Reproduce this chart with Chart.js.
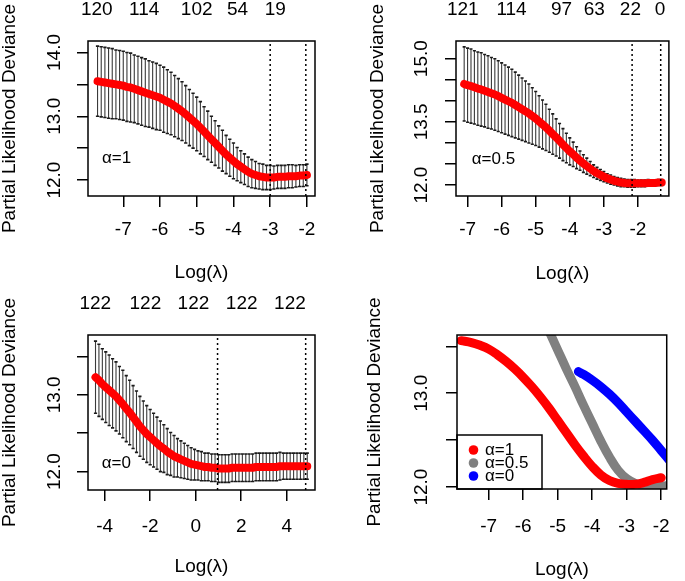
<!DOCTYPE html>
<html>
<head>
<meta charset="utf-8">
<script src="https://cdn.jsdelivr.net/npm/chart.js@4.4.1/dist/chart.umd.min.js"></script>
<style>
  html, body { margin: 0; padding: 0; background: #fff; }
  #wrap { position: relative; width: 685px; height: 581px; }
  canvas { position: absolute; }
</style>
</head>
<body>
<div id="wrap">
  <canvas id="c1" width="340" height="290" style="left:0;top:0"></canvas>
  <canvas id="c2" width="345" height="290" style="left:340px;top:0"></canvas>
  <canvas id="c3" width="340" height="291" style="left:0;top:290px"></canvas>
  <canvas id="c4" width="345" height="291" style="left:340px;top:290px"></canvas>
</div>
<script>
Chart.defaults.font.family = '"Liberation Sans", Arial, Helvetica, sans-serif';
Chart.defaults.font.size = 19;
Chart.defaults.color = '#000';

// ---- alpha = 1 (lasso) ----
const logLam1 = [-7.7,-7.6,-7.5,-7.4,-7.3,-7.2,-7.1,-7.0,-6.9,-6.8,
  -6.7,-6.6,-6.5,-6.4,-6.3,-6.2,-6.1,-6.0,-5.9,-5.8,
  -5.7,-5.6,-5.5,-5.4,-5.3,-5.2,-5.1,-5.0,-4.9,-4.8,
  -4.7,-4.6,-4.5,-4.4,-4.3,-4.2,-4.1,-4.0,-3.9,-3.8,
  -3.7,-3.6,-3.5,-3.4,-3.3,-3.2,-3.1,-3.0,-2.9,-2.8,
  -2.7,-2.6,-2.5,-2.4,-2.3,-2.2,-2.1,-2.0];
const cvm1 = [13.55,13.54,13.53,13.52,13.51,13.50,13.49,13.48,13.46,13.45,
  13.43,13.41,13.39,13.37,13.35,13.33,13.31,13.29,13.26,13.23,
  13.20,13.16,13.12,13.08,13.03,12.98,12.93,12.88,12.82,12.76,
  12.70,12.64,12.58,12.52,12.46,12.40,12.35,12.30,12.25,12.21,
  12.17,12.13,12.10,12.08,12.06,12.05,12.04,12.04,12.04,12.05,
  12.05,12.05,12.06,12.06,12.06,12.07,12.07,12.08];
const cvsd1 = [0.55,0.55,0.55,0.55,0.55,0.54,0.54,0.54,0.54,0.54,
  0.53,0.53,0.53,0.53,0.52,0.52,0.52,0.51,0.51,0.50,
  0.49,0.48,0.47,0.46,0.45,0.44,0.43,0.42,0.41,0.39,
  0.38,0.36,0.35,0.33,0.32,0.30,0.29,0.28,0.26,0.25,
  0.24,0.23,0.22,0.21,0.20,0.20,0.19,0.19,0.18,0.18,
  0.18,0.18,0.18,0.18,0.17,0.17,0.17,0.17];
const cut1 = [-3.0, -2.03];
const topPos1 = [-7.72, -6.43, -5.0, -3.89, -2.86];
const topLab1 = ['120', '114', '102', '54', '19'];

// ---- alpha = 0.5 (elastic net) ----
const logLam2 = [-7.1,-7.0,-6.9,-6.8,-6.7,-6.6,-6.5,-6.4,-6.3,-6.2,
  -6.1,-6.0,-5.9,-5.8,-5.7,-5.6,-5.5,-5.4,-5.3,-5.2,
  -5.1,-5.0,-4.9,-4.8,-4.7,-4.6,-4.5,-4.4,-4.3,-4.2,
  -4.1,-4.0,-3.9,-3.8,-3.7,-3.6,-3.5,-3.4,-3.3,-3.2,
  -3.1,-3.0,-2.9,-2.8,-2.7,-2.6,-2.5,-2.4,-2.3,-2.2,
  -2.1,-2.0,-1.9,-1.8,-1.7,-1.6,-1.5,-1.4,-1.3];
const cvm2 = [14.40,14.37,14.35,14.32,14.29,14.27,14.24,14.21,14.18,14.15,
  14.11,14.07,14.03,13.99,13.95,13.90,13.85,13.80,13.75,13.70,
  13.64,13.58,13.51,13.44,13.37,13.29,13.21,13.13,13.05,12.96,
  12.88,12.80,12.73,12.65,12.58,12.51,12.45,12.39,12.33,12.28,
  12.24,12.20,12.16,12.13,12.10,12.08,12.06,12.05,12.04,12.04,
  12.04,12.04,12.04,12.04,12.05,12.05,12.05,12.06,12.06];
const cvsd2 = [0.88,0.88,0.88,0.87,0.87,0.87,0.86,0.86,0.85,0.85,
  0.84,0.83,0.82,0.81,0.80,0.78,0.76,0.74,0.72,0.70,
  0.67,0.64,0.61,0.58,0.55,0.51,0.48,0.44,0.41,0.38,
  0.35,0.32,0.29,0.26,0.23,0.21,0.19,0.17,0.15,0.14,
  0.13,0.12,0.11,0.11,0.10,0.10,0.10,0.09,0.09,0.09,
  0.09,0.08,0.08,0.08,0.08,0.07,0.07,0.07,0.07];
const cut2 = [-2.17, -1.33];
const topPos2 = [-7.14, -5.71, -4.24, -3.28, -2.22, -1.35];
const topLab2 = ['121', '114', '97', '63', '22', '0'];

// ---- alpha = 0 (ridge) ----
const logLam3 = [-4.40,-4.25,-4.10,-3.95,-3.80,-3.65,-3.50,-3.35,-3.20,-3.05,
  -2.90,-2.75,-2.60,-2.45,-2.30,-2.15,-2.00,-1.85,-1.70,-1.55,
  -1.40,-1.25,-1.10,-0.95,-0.80,-0.65,-0.50,-0.35,-0.20,-0.05,
  0.10,0.25,0.40,0.55,0.70,0.85,1.00,1.15,1.30,1.45,
  1.60,1.75,1.90,2.05,2.20,2.35,2.50,2.65,2.80,2.95,
  3.10,3.25,3.40,3.55,3.70,3.85,4.00,4.15,4.30,4.45,
  4.60,4.75,4.90];
const cvm3 = [13.23,13.19,13.14,13.10,13.06,13.02,12.98,12.93,12.88,12.82,
  12.77,12.71,12.65,12.59,12.54,12.49,12.45,12.41,12.37,12.33,
  12.30,12.26,12.23,12.20,12.18,12.16,12.14,12.12,12.10,12.09,
  12.08,12.07,12.06,12.06,12.05,12.05,12.04,12.04,12.04,12.04,
  12.05,12.05,12.05,12.05,12.05,12.05,12.05,12.06,12.06,12.06,
  12.06,12.06,12.06,12.06,12.07,12.07,12.07,12.07,12.07,12.07,
  12.07,12.07,12.07];
const cvsd3 = [0.47,0.47,0.46,0.46,0.46,0.45,0.45,0.44,0.44,0.43,
  0.42,0.41,0.40,0.39,0.38,0.37,0.36,0.35,0.34,0.33,
  0.31,0.30,0.28,0.27,0.25,0.24,0.23,0.22,0.21,0.20,
  0.19,0.19,0.18,0.18,0.18,0.18,0.18,0.18,0.18,0.18,
  0.18,0.18,0.18,0.18,0.18,0.18,0.18,0.18,0.18,0.18,
  0.18,0.18,0.18,0.18,0.18,0.17,0.17,0.17,0.17,0.17,
  0.17,0.17,0.17];
const cut3 = [0.96, 4.83];
const topPos3 = [-4.41, -2.21, -0.10, 2.02, 4.14];
const topLab3 = ['122', '122', '122', '122', '122'];

// ---- comparison panel ----
const cmpLamA = [-7.8,-7.5,-7.25,-7.0,-6.75,-6.5,-6.25,-6.0,-5.75,-5.5,-5.25,-5.0,
  -4.75,-4.5,-4.25,-4.0,-3.75,-3.5,-3.25,-3.0,-2.75,-2.5,-2.25,-2.0];
const cmpA = [13.56,13.54,13.51,13.47,13.41,13.34,13.26,13.17,13.07,12.96,12.84,12.71,
  12.58,12.45,12.33,12.22,12.13,12.07,12.04,12.03,12.03,12.05,12.08,12.10];
const cmpLamB = [-5.5,-5.25,-5.0,-4.75,-4.5,-4.25,-4.0,-3.75,-3.5,-3.25,-3.0,-2.75,-2.5,-2.25,-2.0,-1.75];
const cmpB = [13.86,13.66,13.46,13.26,13.07,12.87,12.68,12.49,12.32,12.18,12.09,12.04,12.02,12.01,12.01,12.02];
const cmpLamC = [-4.4,-4.25,-4.0,-3.75,-3.5,-3.25,-3.0,-2.75,-2.5,-2.25,-2.0,-1.75];
const cmpC = [13.23,13.20,13.14,13.07,12.99,12.90,12.80,12.70,12.60,12.50,12.39,12.28];
const legendLabels = ['α=1', 'α=0.5', 'α=0'];
const legendColors = ['#ff0000', '#808080', '#0000ff'];

// ---- axis ticks ----
const xTicksA = [-7, -6, -5, -4, -3, -2];
const xLabelsA = ['-7', '-6', '-5', '-4', '-3', '-2'];
const xTicksB = [-4, -2, 0, 2, 4];
const xLabelsB = ['-4', '-2', '0', '2', '4'];
const yTicks1 = [12, 12.5, 13, 13.5, 14];
const yLabels1 = ['12.0', '', '13.0', '', '14.0'];
const yTicks2 = [12, 12.5, 13, 13.5, 14, 14.5, 15];
const yLabels2 = ['12.0', '', '', '13.5', '', '', '15.0'];
const yTicks3 = [12, 12.5, 13, 13.5];
const yLabels3 = ['12.0', '', '13.0', ''];

function pts(xs, ys) {
  return xs.map((x, i) => ({x: x, y: ys[i]}));
}
function barPts(xs, m, s) {
  const out = [];
  xs.forEach((x, i) => {
    out.push({x: x, y: m[i] - s[i]}, {x: x, y: m[i] + s[i]}, {x: x, y: null});
  });
  return out;
}
function capPts(xs, m, s, w) {
  const out = [];
  xs.forEach((x, i) => {
    out.push({x: x - w, y: m[i] + s[i]}, {x: x + w, y: m[i] + s[i]}, {x: x, y: null});
    out.push({x: x - w, y: m[i] - s[i]}, {x: x + w, y: m[i] - s[i]}, {x: x, y: null});
  });
  return out;
}
function vline(v, lo, hi) {
  return {data: [{x: v, y: lo}, {x: v, y: hi}], showLine: true, borderColor: '#000',
    borderWidth: 1.5, borderDash: [2, 3], pointRadius: 0, clip: 0};
}
function cvSets(xs, m, s, cut, yr, w) {
  return [
    vline(cut[0], yr[0], yr[1]),
    vline(cut[1], yr[0], yr[1]),
    {data: pts(xs, m), showLine: true, borderColor: '#ff0000', borderWidth: 8,
      borderCapStyle: 'round', borderJoinStyle: 'round', pointRadius: 0, clip: 0},
    {data: capPts(xs, m, s, w), showLine: true, spanGaps: false, borderColor: '#1a1a1a',
      borderWidth: 1.6, pointRadius: 0, clip: 0},
    {data: barPts(xs, m, s), showLine: true, spanGaps: false, borderColor: '#3a3a3a',
      borderWidth: 1.1, pointRadius: 0, clip: 0}
  ];
}

const framePlugin = {
  id: 'rFrame',
  afterDraw(chart, args, opts) {
    const ctx = chart.ctx;
    const a = chart.chartArea;
    ctx.save();
    ctx.font = '17px "Liberation Sans", Arial, sans-serif';
    ctx.fillStyle = '#000';
    ctx.textBaseline = 'middle';
    ctx.textAlign = 'left';
    if (opts.note) {
      ctx.fillText(opts.note.text, a.left + opts.note.dx, a.top + opts.note.dy);
    }
    if (opts.legend) {
      const L = opts.legend;
      const top = a.bottom - L.h;
      ctx.fillStyle = '#fff';
      ctx.fillRect(a.left, top, L.w, L.h);
      ctx.strokeStyle = '#000';
      ctx.lineWidth = 1.5;
      ctx.strokeRect(a.left, top, L.w, L.h);
      L.labels.forEach((t, i) => {
        const y = top + L.rows[i];
        ctx.fillStyle = L.colors[i];
        ctx.beginPath();
        ctx.arc(a.left + 16.5, y, 4.8, 0, Math.PI * 2);
        ctx.fill();
        ctx.fillStyle = '#000';
        ctx.fillText(t, a.left + 28, y);
      });
    }
    ctx.strokeStyle = '#000';
    ctx.lineWidth = 1.5;
    ctx.strokeRect(a.left, a.top, a.right - a.left, a.bottom - a.top);
    ctx.restore();
  }
};
Chart.register(framePlugin);

function makePanel(id, c) {
  const scales = {
    x: {
      type: 'linear', position: 'bottom', min: c.xr[0], max: c.xr[1],
      afterBuildTicks: s => { s.ticks = c.xt.map(v => ({value: v})); },
      afterFit: s => { s.height = c.xH; },
      ticks: {autoSkip: false, maxRotation: 0, minRotation: 0, padding: c.xPad,
        callback: (v, i) => c.xl[i]},
      grid: {drawOnChartArea: false, drawTicks: true, tickLength: 11, color: '#000', lineWidth: 1.5},
      border: {display: false},
      title: {display: true, text: 'Log(λ)', font: {size: 19}, padding: {top: 0, bottom: c.xTitlePad}}
    },
    y: {
      type: 'linear', position: 'left', min: c.yr[0], max: c.yr[1],
      afterBuildTicks: s => { s.ticks = c.yt.map(v => ({value: v})); },
      afterFit: s => { s.width = c.yW; },
      ticks: {autoSkip: false, minRotation: 90, maxRotation: 90, crossAlign: 'center',
        padding: c.yPad, callback: (v, i) => c.yl[i]},
      grid: {drawOnChartArea: false, drawTicks: true, tickLength: 11, color: '#000', lineWidth: 1.5},
      border: {display: false},
      title: {display: true, text: 'Partial Likelihood Deviance', font: {size: 19, lineHeight: 1},
        padding: {top: c.yTitlePad, bottom: 0}}
    }
  };
  if (c.topPos) {
    scales.xTop = {
      type: 'linear', position: 'top', min: c.xr[0], max: c.xr[1],
      afterBuildTicks: s => { s.ticks = c.topPos.map(v => ({value: v})); },
      afterFit: s => { s.height = c.topH; },
      ticks: {autoSkip: false, maxRotation: 0, minRotation: 0, padding: c.topPad,
        callback: (v, i) => c.topLab[i]},
      grid: {display: false, drawTicks: false},
      border: {display: false}
    };
  }
  return new Chart(document.getElementById(id), {
    type: 'scatter',
    data: {datasets: c.datasets},
    options: {
      responsive: false, animation: false, events: [],
      layout: {padding: c.pad},
      plugins: {legend: {display: false}, tooltip: {enabled: false}, rFrame: c.frame},
      scales: scales
    }
  });
}

const yr1 = [11.75, 14.18], yr2 = [11.74, 15.42], yr3 = [11.76, 13.78], yr4 = [11.98, 13.62];

makePanel('c1', {
  xr: [-7.96, -1.78], yr: yr1, xt: xTicksA, xl: xLabelsA, yt: yTicks1, yl: yLabels1,
  topPos: topPos1, topLab: topLab1, topH: 41, topPad: 19.6,
  xH: 94, xPad: 11.6, xTitlePad: 5.6, yW: 88, yPad: 3.5, yTitlePad: 0,
  pad: {left: 0, right: 25, top: 0, bottom: 0},
  frame: {note: {text: 'α=1', dx: 14, dy: 117}},
  datasets: cvSets(logLam1, cvm1, cvsd1, cut1, yr1, 0.045)
});

makePanel('c2', {
  xr: [-7.34, -1.09], yr: yr2, xt: xTicksA, xl: xLabelsA, yt: yTicks2, yl: yLabels2,
  topPos: topPos2, topLab: topLab2, topH: 41, topPad: 19.6,
  xH: 94, xPad: 11.6, xTitlePad: 5.3, yW: 116, yPad: 4.8, yTitlePad: 28,
  pad: {left: 0, right: 2, top: 0, bottom: 0},
  frame: {note: {text: 'α=0.5', dx: 15.7, dy: 118.3}},
  datasets: cvSets(logLam2, cvm2, cvsd2, cut2, yr2, 0.045)
});

makePanel('c3', {
  xr: [-4.73, 5.24], yr: yr3, xt: xTicksB, xl: xLabelsB, yt: yTicks3, yl: yLabels3,
  topPos: topPos3, topLab: topLab3, topH: 45, topPad: 20.3,
  xH: 91, xPad: 14.3, xTitlePad: 2.9, yW: 88, yPad: 3.5, yTitlePad: 0,
  pad: {left: 0, right: 25, top: 0, bottom: 0},
  frame: {note: {text: 'α=0', dx: 13.7, dy: 128.3}},
  datasets: cvSets(logLam3, cvm3, cvsd3, cut3, yr3, 0.07)
});

function thick(xs, ys, color) {
  return {data: pts(xs, ys), showLine: true, borderColor: color, borderWidth: 9,
    borderCapStyle: 'round', borderJoinStyle: 'round', tension: 0.4,
    pointRadius: 0, clip: 0};
}
makePanel('c4', {
  xr: [-7.92, -1.84], yr: yr4, xt: xTicksA, xl: xLabelsA, yt: yTicks3, yl: yLabels3,
  xH: 92, xPad: 15.3, xTitlePad: 0, yW: 117, yPad: 6, yTitlePad: 25.5,
  pad: {left: 0, right: 2, top: 45, bottom: 0},
  frame: {legend: {labels: legendLabels, colors: legendColors, w: 85, h: 54, rows: [15, 28, 41]}},
  datasets: [
    thick(cmpLamA, cmpA, legendColors[0]),
    thick(cmpLamB, cmpB, legendColors[1]),
    thick(cmpLamC, cmpC, legendColors[2])
  ]
});
</script>
</body>
</html>
